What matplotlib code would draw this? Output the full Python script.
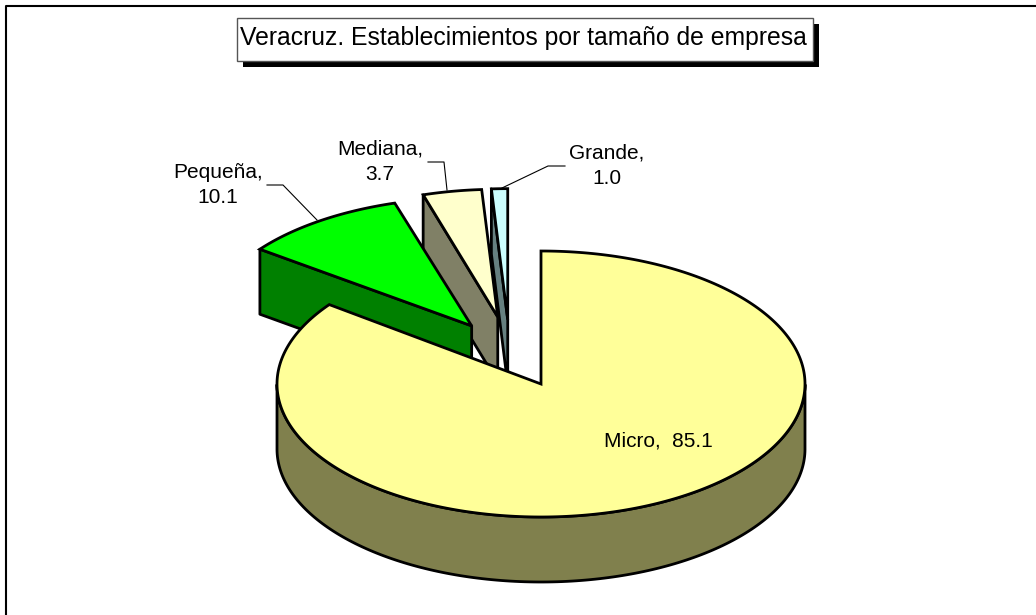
import matplotlib
matplotlib.use('Agg')
import matplotlib.pyplot as plt
import numpy as np

categories = ['Micro', 'Pequeña', 'Mediana', 'Grande']
values = [85.1, 10.1, 3.7, 1.0]
title = 'Veracruz. Establecimientos por tamaño de empresa'

top_colors = ['#FFFF99', '#00FF00', '#FFFFCC', '#CCFFFF']
side_colors = ['#80804D', '#008000', '#808066', '#668080']

plt.rcParams['font.family'] = ['Liberation Sans', 'DejaVu Sans']

W, H = 1036, 615
fig = plt.figure(figsize=(W / 100, H / 100), dpi=100)
ax = fig.add_axes([0, 0, 1, 1])
ax.set_xlim(0, W)
ax.set_ylim(H, 0)
ax.axis('off')

# pie geometry in pixels
cx, cy = 541, 384
rx, ry = 264, 133
depth = 65
lw = 2.0

# how far each slice is pulled out (fraction of radius, direction in degrees)
explode = [0, 0.51, 0.53, 0.50]
explode_dir = [90, 121, 108, 104.6]
radius_x = [1, 1, 0.97, 0.985]
radius_y = [1, 0.965, 0.96, 0.985]

# outer frame, only left and top show
ax.plot([6, 6, W], [H, 6, 6], color='black', lw=1.5, solid_capstyle='butt')


def pt(ang, i, ox=0, oy=0):
    a = np.radians(ang)
    return cx + ox + rx * radius_x[i] * np.cos(a), cy + oy - ry * radius_y[i] * np.sin(a)


# slice angles, clockwise from 12 o'clock
total = sum(values)
starts = []
ends = []
a = 90.0
for v in values:
    starts.append(a)
    a -= v / total * 360
    ends.append(a)

# draw back to front: Grande, Mediana, Pequeña, Micro
for i in [3, 2, 1, 0]:
    d = np.radians(explode_dir[i])
    ox = rx * explode[i] * np.cos(d)
    oy = -ry * explode[i] * np.sin(d)
    ang = np.linspace(starts[i], ends[i], 300)
    xs, ys = pt(ang, i, ox, oy)
    ax0, ay0 = cx + ox, cy + oy

    if i == 0:
        # outer wall of the big slice, front half only
        wa = ang[np.sin(np.radians(ang)) <= 0]
        wx, wy = pt(wa, i, ox, oy)
        ax.fill(np.r_[wx, wx[::-1]], np.r_[wy, wy[::-1] + depth],
                fc=side_colors[i], ec='black', lw=lw, joinstyle='round')
    else:
        # cut face on the left edge of the exploded slice
        lx, ly = xs[0], ys[0]
        ax.fill([lx, ax0, ax0, lx], [ly, ay0, ay0 + depth, ly + depth],
                fc=side_colors[i], ec='black', lw=lw, joinstyle='round')

    ax.fill(np.r_[ax0, xs], np.r_[ay0, ys], fc=top_colors[i], ec='black',
            lw=lw, joinstyle='miter')

# leader lines
ax.plot([267, 283, 317], [185, 185, 220], color='black', lw=0.8)
ax.plot([428, 444, 447], [162, 162, 190], color='black', lw=0.8)
ax.plot([502, 548, 565], [188, 166, 166], color='black', lw=0.8)

# labels
fs = 15
ax.text(658, 441, f'{categories[0]},  {values[0]}', fontsize=fs, ha='center', va='center')
ax.text(218, 185, f'{categories[1]},\n{values[1]}', fontsize=fs, ha='center', va='center', linespacing=1.45)
ax.text(380, 161.5, f'{categories[2]},\n{values[2]}', fontsize=fs, ha='center', va='center', linespacing=1.45)
ax.text(607, 166, f'{categories[3]},\n{values[3]}', fontsize=fs, ha='center', va='center', linespacing=1.45)

# title box with hard shadow
bx0, by0, bx1, by1 = 237, 18, 813, 61
ax.fill([bx0 + 6, bx1 + 6, bx1 + 6, bx0 + 6], [by0 + 6, by0 + 6, by1 + 6, by1 + 6], fc='black', ec='none')
ax.fill([bx0, bx1, bx1, bx0], [by0, by0, by1, by1], fc='white', ec='#555555', lw=1)
ax.text((bx0 + bx1) / 2 - 1.5, 38, title, fontsize=17.8, ha='center', va='center', color='black')

fig.savefig('out.png', dpi=100)
